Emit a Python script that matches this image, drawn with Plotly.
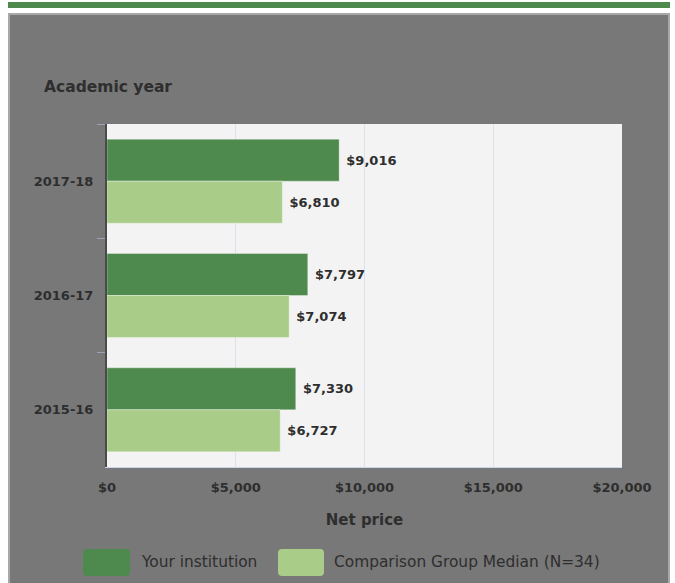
import plotly.graph_objects as go

categories = ["2017-18", "2016-17", "2015-16"]
your_institution = [9016, 7797, 7330]
comparison_median = [6810, 7074, 6727]
x_tick_vals = [0, 5000, 10000, 15000, 20000]
x_tick_text = ["$0", "$5,000", "$10,000", "$15,000", "$20,000"]
series_names = ["Your institution", "Comparison Group Median (N=34)"]

W, H = 675, 583
L, R, T, B = 107, 622, 124, 467
DARK = "#4e8a4e"
LIGHT = "#a9cc88"
TXT = "#2e2e2e"
FONT = "DejaVu Sans"


def px(x):
    return (x - L) / (R - L)


def py(y):
    return (B - y) / (B - T)


def rounded_rect(x0, y0, x1, y1, r):
    X0, X1 = px(x0), px(x1)
    Y0, Y1 = py(y0), py(y1)
    rx = r / (R - L)
    ry = r / (B - T)
    return (f"M {X0 + rx},{Y0} L {X1 - rx},{Y0} Q {X1},{Y0} {X1},{Y0 - ry} "
            f"L {X1},{Y1 + ry} Q {X1},{Y1} {X1 - rx},{Y1} L {X0 + rx},{Y1} "
            f"Q {X0},{Y1} {X0},{Y1 + ry} L {X0},{Y0 - ry} Q {X0},{Y0} {X0 + rx},{Y0} Z")


fig = go.Figure()
for vals, name, col in [(your_institution, series_names[0], DARK),
                        (comparison_median, series_names[1], LIGHT)]:
    fig.add_trace(go.Bar(
        y=categories, x=vals, orientation="h", name=name,
        marker=dict(color=col, line=dict(color="rgba(255,255,255,0.35)", width=1)),
        texttemplate="\u00a0<b>%{x:$,.0f}</b>", textposition="outside", cliponaxis=False,
        textfont=dict(family=FONT, size=13, color=TXT), showlegend=False,
    ))

shapes = [
    # white page outside panel
    dict(type="rect", xref="paper", yref="paper", x0=px(-5), x1=px(8), y0=py(-5), y1=py(600),
         fillcolor="white", line=dict(width=0), layer="below"),
    dict(type="rect", xref="paper", yref="paper", x0=px(670), x1=px(690), y0=py(-5), y1=py(600),
         fillcolor="white", line=dict(width=0), layer="below"),
    dict(type="rect", xref="paper", yref="paper", x0=px(-5), x1=px(690), y0=py(-5), y1=py(13),
         fillcolor="white", line=dict(width=0), layer="below"),
    # top green bar
    dict(type="rect", xref="paper", yref="paper", x0=px(8), x1=px(670), y0=py(2), y1=py(8),
         fillcolor=DARK, line=dict(width=0), layer="below"),
    # panel border
    dict(type="rect", xref="paper", yref="paper", x0=px(9), x1=px(669), y0=py(14), y1=py(600),
         fillcolor="rgba(0,0,0,0)", line=dict(color="#a8a8a8", width=2), layer="below"),
    # legend swatches
    dict(type="path", xref="paper", yref="paper", path=rounded_rect(83, 549, 130, 576, 4),
         fillcolor=DARK, line=dict(width=0)),
    dict(type="path", xref="paper", yref="paper", path=rounded_rect(278, 549, 324, 576, 4),
         fillcolor=LIGHT, line=dict(width=0)),
]

annotations = [
    dict(text="<b>Academic year</b>", xref="paper", yref="paper", x=px(42), y=py(87),
         xanchor="left", yanchor="middle", showarrow=False, font=dict(family=FONT, size=15.5, color=TXT)),
    dict(text=series_names[0], xref="paper", yref="paper", x=px(139), y=py(562),
         xanchor="left", yanchor="middle", showarrow=False, font=dict(family=FONT, size=15.4, color=TXT)),
    dict(text=series_names[1], xref="paper", yref="paper", x=px(332), y=py(562),
         xanchor="left", yanchor="middle", showarrow=False, font=dict(family=FONT, size=15.4, color=TXT)),
]

fig.update_layout(
    width=W, height=H,
    margin=dict(l=L, r=W - R, t=T, b=H - B, pad=0),
    paper_bgcolor="#787878",
    plot_bgcolor="#f3f3f3",
    barmode="group", bargap=0.265, bargroupgap=0,
    showlegend=False,
    shapes=shapes, annotations=annotations,
    font=dict(family=FONT, color=TXT),
)
fig.update_xaxes(
    range=[0, 20000], tickvals=x_tick_vals, ticktext=[f"<b>{t}</b>" for t in x_tick_text],
    tickfont=dict(family=FONT, size=13, color=TXT),
    showgrid=True, gridcolor="#dde1ee", gridwidth=1,
    showline=True, linecolor="#ccd6eb", linewidth=1,
    zeroline=False, ticks="", ticklabelstandoff=8,
    title=dict(text="<b>Net price</b>", font=dict(family=FONT, size=15, color=TXT), standoff=20),
)
fig.update_yaxes(
    categoryorder="array", categoryarray=categories, autorange="reversed",
    tickfont=dict(family=FONT, size=13, color=TXT),
    tickprefix="<b>", ticksuffix="</b>",
    showline=True, linecolor="#4a4a4a", linewidth=2, layer="below traces",
    ticks="outside", tickson="boundaries", ticklen=8, tickcolor="#9aa3b5", tickwidth=1,
    showgrid=False, zeroline=False, ticklabelstandoff=9,
)

fig.write_html("out.html", config={"displayModeBar": False},
               post_script="document.body.style.margin='0';")
